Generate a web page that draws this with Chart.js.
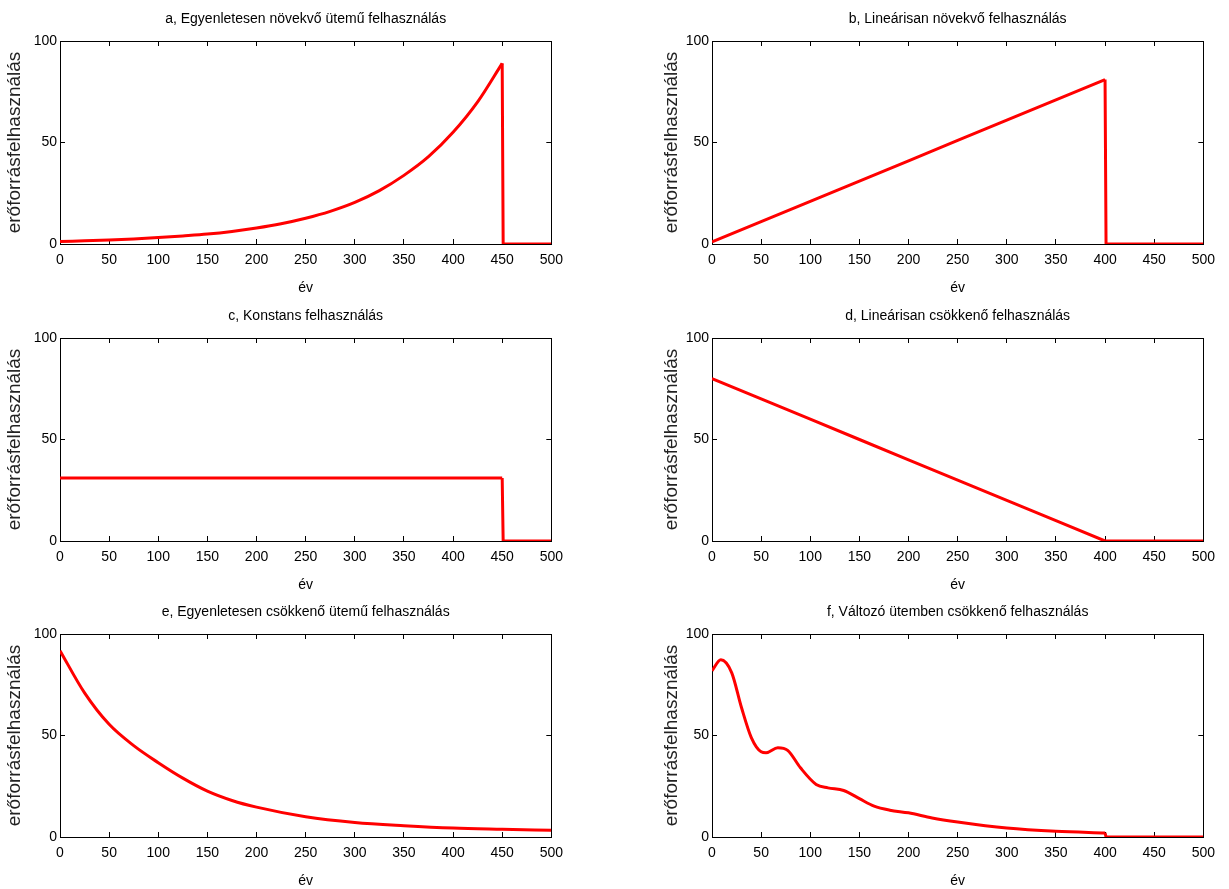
<!DOCTYPE html>
<html lang="hu">
<head>
<meta charset="utf-8">
<title>Erőforrás-felhasználás</title>
<script src="https://cdn.jsdelivr.net/npm/chart.js@4.4.1/dist/chart.umd.min.js"></script>
<style>
  html, body { margin: 0; padding: 0; background: #fff; }
  body { width: 1229px; height: 889px; position: relative; overflow: hidden; }
  canvas { position: absolute; }
</style>
</head>
<body>
<canvas id="panel-a"></canvas>
<canvas id="panel-b"></canvas>
<canvas id="panel-c"></canvas>
<canvas id="panel-d"></canvas>
<canvas id="panel-e"></canvas>
<canvas id="panel-f"></canvas>
<script>
// Panel titles and axis texts
const panelTitles = [
    'a, Egyenletesen növekvő ütemű felhasználás',
    'b, Lineárisan növekvő felhasználás',
    'c, Konstans felhasználás',
    'd, Lineárisan csökkenő felhasználás',
    'e, Egyenletesen csökkenő ütemű felhasználás',
    'f, Változó ütemben csökkenő felhasználás'
];
const xLabel = 'év';
const yLabel = 'erőforrásfelhasználás';
const xTicksMax = 500;
const yTicksMax = 100;

// a) growing at a steady rate until year 450
const yearsA = [0, 25, 50, 75, 100, 125, 150, 175, 200, 225, 250, 275, 300, 325, 350, 375, 400, 425, 450];
const useA   = [1.2, 1.6, 2.0, 2.5, 3.2, 4.0, 4.9, 6.2, 7.9, 10, 12.7, 16.1, 20.5, 26.3, 33.8, 43, 55, 70, 89];

// b) linear growth until year 400
const yearsB = [0, 100, 200, 300, 400];
const useB   = [1, 21, 41, 61, 81];

// c) constant until year 450
const yearsC = [0, 450];
const useC   = [31, 31];

// d) linear decrease down to zero at year 400
const yearsD = [0, 100, 200, 300, 400];
const useD   = [80, 60, 40, 20, 0];

// e) decreasing at a steady rate
const yearsE = [0, 25, 50, 75, 100, 125, 150, 175, 200, 250, 300, 350, 400, 450, 500];
const useE   = [91.8, 71, 55.5, 45, 36.6, 29, 22.6, 18, 14.7, 10, 7.2, 5.6, 4.4, 3.8, 3.3];

// f) decreasing at a varying rate until year 400
const yearsF = [0, 9, 20, 30, 40, 50, 55, 67, 77, 90, 106, 118, 134, 150, 165, 181, 200, 224, 250, 300, 350, 400];
const useF   = [81.9, 87.3, 81, 63.8, 49, 42, 41.5, 44, 42.7, 34.1, 25.9, 24.2, 22.9, 18.9, 15.2, 13.2, 11.9, 9.4, 7.4, 4.4, 2.8, 2.0];

// year where consumption falls to zero (null: never)
const stopYears = [451, 401, 451, 400, null, 401];

const seriesYears = [yearsA, yearsB, yearsC, yearsD, yearsE, yearsF];
const seriesUse = [useA, useB, useC, useD, useE, useF];

// plot box positions on the page
const plotLefts = [60, 712];
const plotTops = [41, 338, 634];
const plotW = 496;
const plotH = 203;
const axisW = 60;     // space left of the plot box (y ticks + y title)
const titleH = 41;    // space above the plot box
const xAxisH = 56;    // space below the plot box (x ticks + x title)
const padRight = 20;

const textFont = { family: '"Liberation Sans", Arial, sans-serif', size: 14 };
const lineRed = '#ff0000';

function frameAxis(position, max, step, extra) {
    return Object.assign({
        type: 'linear',
        position: position,
        min: 0,
        max: max,
        ticks: { display: false, stepSize: step },
        grid: { drawOnChartArea: false, drawTicks: true, tickLength: -5, color: '#000', lineWidth: 1 },
        border: { display: true, color: '#000', width: 1 },
        z: 1
    }, extra);
}

function lineSet(points, mode) {
    return {
        data: points,
        borderColor: lineRed,
        borderWidth: 3,
        pointRadius: 0,
        cubicInterpolationMode: mode,
        tension: 0,
        fill: false,
        xAxisID: 'x',
        yAxisID: 'y'
    };
}

function makePanel(idx) {
    const col = idx % 2;
    const row = Math.floor(idx / 2);
    const canvas = document.getElementById('panel-' + 'abcdef'[idx]);
    canvas.width = axisW + plotW + padRight;
    canvas.height = titleH + plotH + xAxisH;
    canvas.style.left = (plotLefts[col] - axisW) + 'px';
    canvas.style.top = (plotTops[row] - titleH) + 'px';

    const years = seriesYears[idx];
    const use = seriesUse[idx];
    const curve = years.map((yr, i) => ({ x: yr, y: use[i] }));
    const datasets = [lineSet(curve, 'monotone')];

    // straight drop to zero and the flat tail after it
    const stop = stopYears[idx];
    if (stop !== null) {
        const last = curve[curve.length - 1];
        datasets.push(lineSet([last, { x: stop, y: 0 }, { x: xTicksMax, y: 0 }], 'default'));
    }

    return new Chart(canvas.getContext('2d'), {
        type: 'line',
        data: { datasets: datasets },
        options: {
            responsive: false,
            animation: false,
            events: [],
            layout: { padding: { left: 0, top: 0, right: padRight, bottom: 0 } },
            plugins: {
                legend: { display: false },
                tooltip: { enabled: false },
                title: {
                    display: true,
                    text: panelTitles[idx],
                    fullSize: false,
                    color: '#000',
                    font: Object.assign({ weight: 'normal' }, textFont),
                    padding: { top: 11, bottom: 13.2 }
                }
            },
            scales: {
                x: frameAxis('bottom', xTicksMax, 50, {
                    ticks: { display: true, stepSize: 50, color: '#000', font: textFont, padding: 13, maxRotation: 0, autoSkip: false },
                    title: { display: true, text: xLabel, color: '#000', font: textFont, padding: { top: 0, bottom: 3 } },
                    afterFit: s => { s.height = xAxisH; }
                }),
                y: frameAxis('left', yTicksMax, 50, {
                    ticks: { display: true, stepSize: 50, color: '#000', font: textFont, padding: 8 },
                    title: {
                        display: true, text: yLabel, color: '#222',
                        font: { family: '"Liberation Sans", Arial, sans-serif', size: 19 },
                        padding: { top: col === 0 ? 3 : 8, bottom: 0 }
                    },
                    afterFit: s => { s.width = axisW; }
                }),
                x2: frameAxis('top', xTicksMax, 50, { afterFit: s => { s.height = 0; } }),
                y2: frameAxis('right', yTicksMax, 50, { afterFit: s => { s.width = 0; } })
            }
        }
    });
}

for (let i = 0; i < 6; i++) makePanel(i);
</script>
</body>
</html>
